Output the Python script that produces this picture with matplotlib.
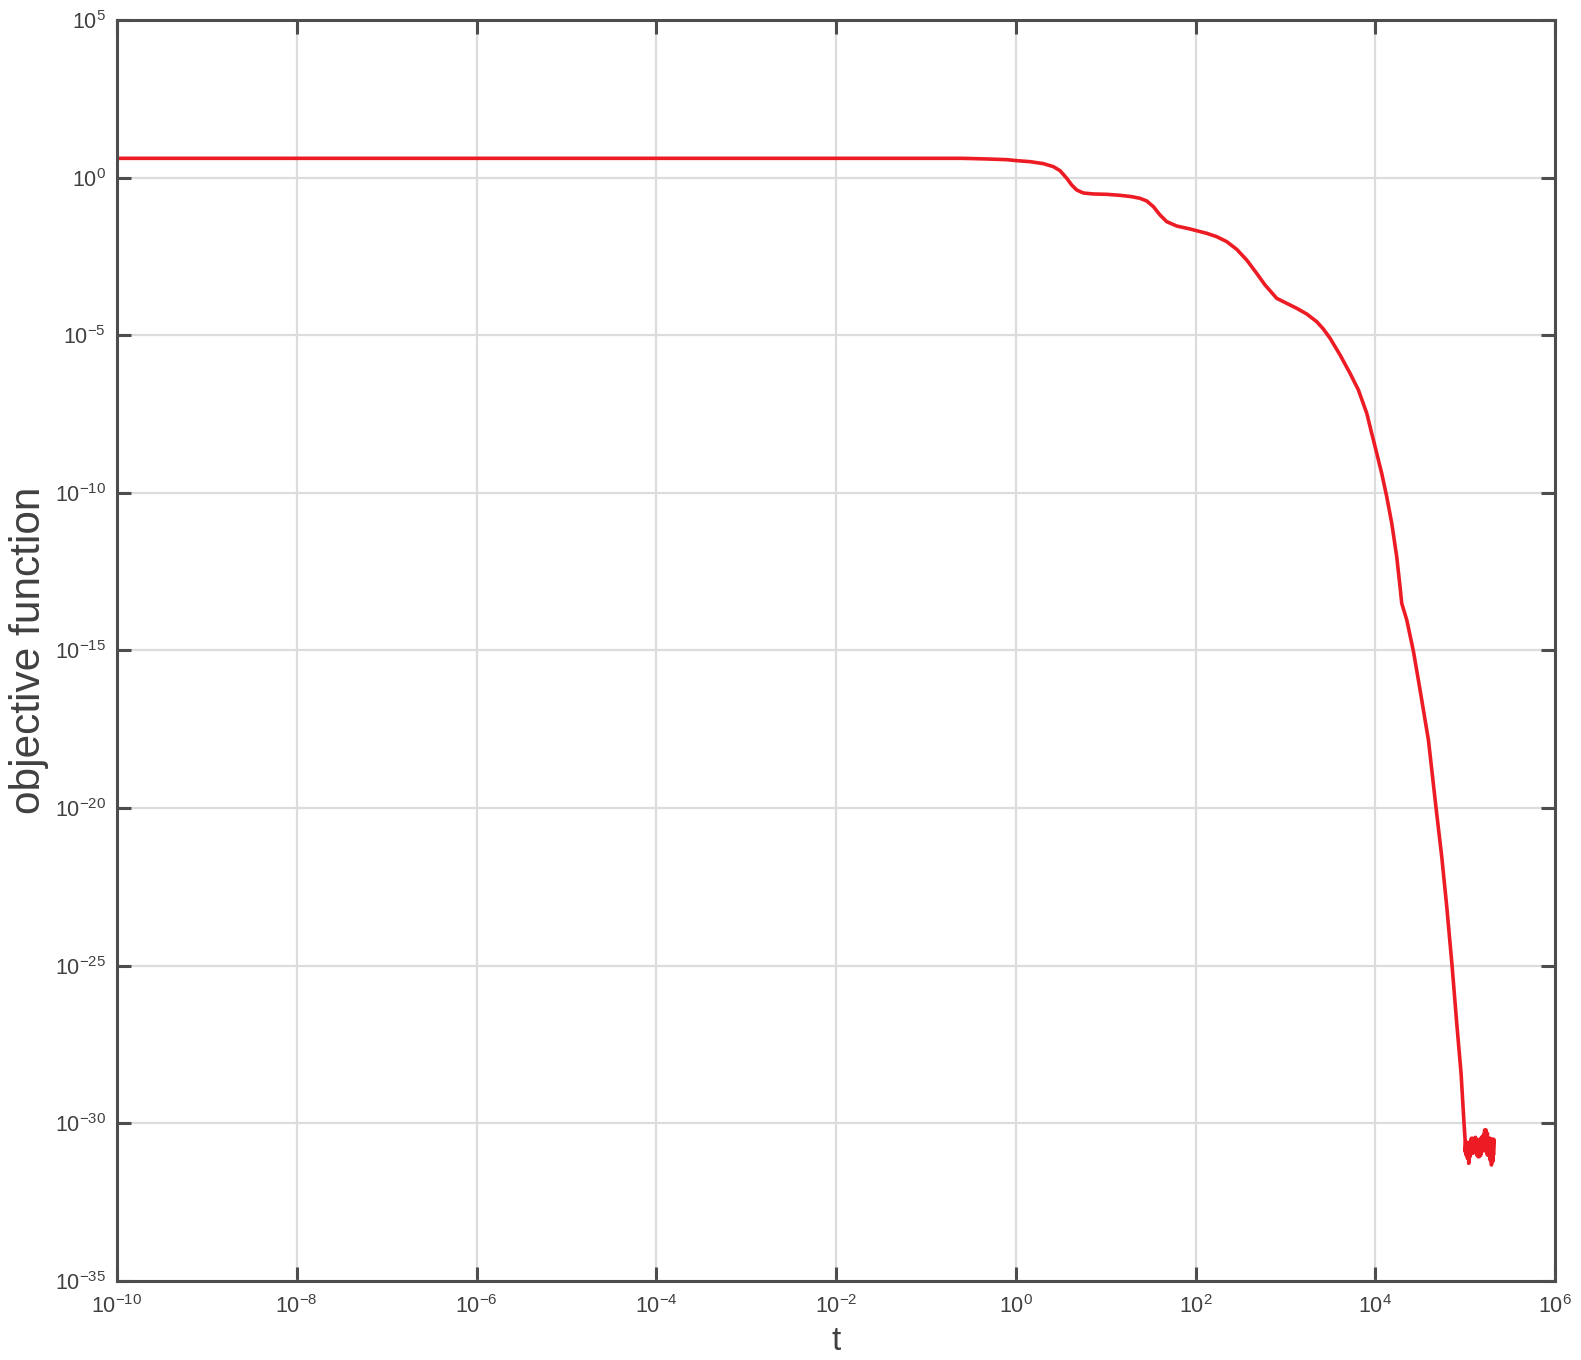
import numpy as np
import matplotlib
matplotlib.use("Agg")
import matplotlib.pyplot as plt
from matplotlib.ticker import FixedLocator, FuncFormatter, NullLocator

plt.rcParams['font.family'] = ['Liberation Sans', 'DejaVu Sans']
plt.rcParams['mathtext.fontset'] = 'custom'
plt.rcParams['mathtext.rm'] = 'Liberation Sans'
plt.rcParams['mathtext.it'] = 'Liberation Sans'
plt.rcParams['mathtext.bf'] = 'Liberation Sans'

# exponents (log10 of t and of the objective)
log_t = [-10.0, -0.6, -0.361, -0.101, 0.010, 0.159, 0.307, 0.418, 0.492, 0.567,
         0.622, 0.678, 0.752, 0.863, 1.012, 1.160, 1.290, 1.382, 1.457, 1.531,
         1.605, 1.679, 1.790, 1.939, 2.124, 2.235, 2.347, 2.458, 2.569, 2.680,
         2.773, 2.903, 2.977, 3.126, 3.237, 3.348, 3.422, 3.497, 3.608, 3.719,
         3.812, 3.905, 3.960, 4.016, 4.071, 4.127, 4.183, 4.238, 4.275, 4.294,
         4.350, 4.424, 4.498, 4.591, 4.676, 4.739, 4.795, 4.854, 4.906, 4.954,
         4.987]
log_f = [0.612, 0.612, 0.595, 0.570, 0.538, 0.506, 0.443, 0.348, 0.221, -0.022,
         -0.234, -0.393, -0.488, -0.519, -0.530, -0.562, -0.604, -0.657, -0.741,
         -0.921, -1.186, -1.397, -1.535, -1.630, -1.767, -1.873, -2.031, -2.275,
         -2.613, -3.036, -3.406, -3.829, -3.935, -4.146, -4.326, -4.569, -4.802,
         -5.098, -5.626, -6.208, -6.737, -7.477, -8.111, -8.746, -9.380, -10.120,
         -10.966, -12.023, -12.975, -13.504, -14.033, -15.026, -16.253, -17.84,
         -20.0, -21.54, -23.13, -25.0, -26.83, -28.41, -30.0]
# tail fluctuations near machine precision (upper / lower envelope pairs)
tail_log_t = [4.999, 4.999, 5.010, 5.010, 5.025, 5.025, 5.039, 5.039, 5.054, 5.054,
              5.069, 5.069, 5.084, 5.084, 5.099, 5.099, 5.114, 5.114, 5.128, 5.128,
              5.143, 5.143, 5.158, 5.158, 5.173, 5.173, 5.188, 5.188, 5.203, 5.203,
              5.217, 5.217, 5.232, 5.232, 5.247, 5.247, 5.262, 5.262, 5.277, 5.277,
              5.292, 5.292, 5.306, 5.306, 5.318, 5.318]
tail_log_f = [-30.527, -30.897, -30.580, -31.003, -30.686, -31.109, -30.739, -31.267,
              -30.580, -31.056, -30.474, -30.897, -30.474, -30.950, -30.527, -30.845,
              -30.443, -30.897, -30.506, -31.003, -30.527, -31.056, -30.580, -31.056,
              -30.474, -31.003, -30.422, -30.897, -30.369, -30.845, -30.210, -30.739,
              -30.210, -30.897, -30.316, -31.003, -30.474, -31.003, -30.474, -31.162,
              -30.506, -31.320, -30.506, -31.215, -30.506, -30.950]

x_ticks_exp = [-10, -8, -6, -4, -2, 0, 2, 4, 6]
y_ticks_exp = [5, 0, -5, -10, -15, -20, -25, -30, -35]

t = 10.0 ** np.array(log_t + tail_log_t)
f = 10.0 ** np.array(log_f + tail_log_f)

fig = plt.figure(figsize=(15.81, 13.6), dpi=100)
ax = fig.add_axes([0.074, 0.0581, 0.9836 - 0.074, 0.9853 - 0.0581])
ax.plot(t, f, color='#ED1C24', lw=2.6)
ax.set_xscale('log')
ax.set_yscale('log')
ax.set_xlim(1e-10, 1e6)
ax.set_ylim(1e-35, 1e5)

ax.xaxis.set_major_locator(FixedLocator([10.0 ** e for e in x_ticks_exp]))
ax.yaxis.set_major_locator(FixedLocator([10.0 ** e for e in y_ticks_exp]))
ax.xaxis.set_minor_locator(NullLocator())
ax.yaxis.set_minor_locator(NullLocator())

def fmt(v, pos):
    e = int(round(np.log10(v)))
    return r'$10^{%d}$' % e

ax.xaxis.set_major_formatter(FuncFormatter(fmt))
ax.yaxis.set_major_formatter(FuncFormatter(fmt))

spine_col = '#4d4d4d'
for s in ax.spines.values():
    s.set_color(spine_col)
    s.set_linewidth(2.2)
ax.tick_params(which='major', direction='in', length=10, width=2.2,
               color=spine_col, top=True, right=True, labelsize=15.5,
               labelcolor='#404040')
ax.tick_params(axis='x', pad=10)
ax.tick_params(axis='y', pad=8)
ax.grid(True, which='major', color='#dcdcdc', lw=1.6)
ax.set_axisbelow(True)

ax.set_xlabel('t', fontsize=24, color='#404040', labelpad=6)
ax.set_ylabel('objective function', fontsize=30.5, color='#404040', labelpad=4)

fig.savefig('out.png', dpi=100, facecolor='white')
